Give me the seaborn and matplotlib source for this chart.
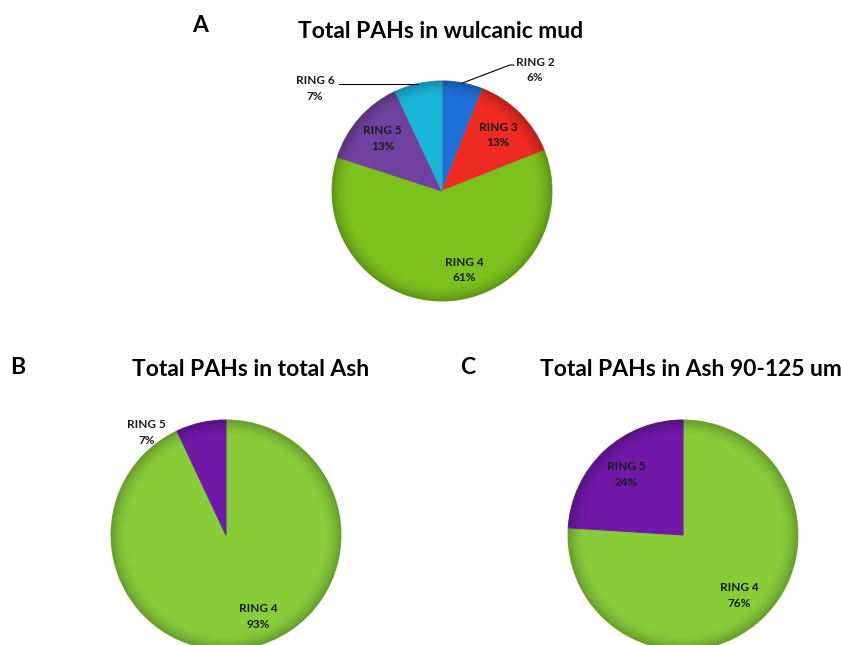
import numpy as np
import matplotlib
matplotlib.use("Agg")
import matplotlib.pyplot as plt
from matplotlib.patches import Circle
import seaborn as sns

sns.set_theme(style="white")
plt.rcParams['font.family'] = ['Lato', 'DejaVu Sans']

# data
mud_labels = ["RING 2", "RING 3", "RING 4", "RING 5", "RING 6"]
mud_values = [6, 13, 61, 13, 7]
ash_labels = ["RING 4", "RING 5"]
ash_values = [93, 7]
fine_labels = ["RING 4", "RING 5"]
fine_values = [76, 24]

colors_mud = {"RING 2": "#1f6fd8", "RING 3": "#ee2a22", "RING 4": "#7cc11d",
              "RING 5": "#7042a0", "RING 6": "#1bb5d9"}
colors_ash = {"RING 4": "#88cc3a", "RING 5": "#7018a8"}

W, H = 841, 645
fig = plt.figure(figsize=(W / 100, H / 100), dpi=100)


def pie_axes(cx, cy, r):
    ax = fig.add_axes([(cx - r) / W, (H - cy - r) / H, 2 * r / W, 2 * r / H])
    return ax


def shade(ax):
    # soft darkening towards the rim, like the bevelled office pie
    g = np.linspace(-1, 1, 400)
    xx, yy = np.meshgrid(g, g)
    rr = np.hypot(xx, yy)
    a = 0.24 * np.clip((rr - 0.84) / 0.16, 0, 1) ** 2
    img = np.zeros((400, 400, 4))
    img[..., 3] = a
    im = ax.imshow(img, extent=(-1, 1, -1, 1), origin="lower", zorder=3,
                   interpolation="bilinear")
    im.set_clip_path(Circle((0, 0), 1, transform=ax.transData))


def draw_pie(ax, labels, values, cmap, outside=None, inside=None):
    outside = outside or {}
    inside = inside or {}
    wedges, _ = ax.pie(values, colors=[cmap[l] for l in labels], startangle=90,
                       counterclock=False, radius=1,
                       wedgeprops=dict(linewidth=0.8))
    for w in wedges:
        w.set_edgecolor(sns.desaturate(w.get_facecolor()[:3], 0.85))
    shade(ax)
    ax.set_xlim(-1, 1)
    ax.set_ylim(-1, 1)
    ax.set_aspect("equal")
    ax.axis("off")
    total = sum(values)
    for w, lab, v in zip(wedges, labels, values):
        txt = f"{lab}\n{round(100 * v / total)}%"
        ang = np.deg2rad((w.theta1 + w.theta2) / 2)
        edge = (np.cos(ang), np.sin(ang))
        kw = dict(ha="center", va="center", fontsize=8.5, fontweight="bold",
                  color="#1a1a1a", linespacing=1.5, zorder=5, clip_on=False)
        if lab in outside:
            tx, ty, style = outside[lab]
            ax.text(tx, ty, txt, **kw)
            if style == "right":
                # horizontal leader from the label to the wedge rim
                ax.plot([tx + 0.22, edge[0]], [edge[1], edge[1]], color="black",
                        lw=0.8, clip_on=False, zorder=5)
            elif style == "left":
                ax.plot([edge[0], tx - 0.23, tx - 0.19], [edge[1], ty + 0.045, ty + 0.045],
                        color="black", lw=0.8, clip_on=False, zorder=5)
        elif lab in inside:
            ax.text(*inside[lab], txt, **kw)
        else:
            d = 0.72
            ax.text(d * edge[0], d * edge[1], txt, **kw)


axA = pie_axes(442, 191, 110)
draw_pie(axA, mud_labels, mud_values, colors_mud,
         outside={"RING 2": (0.845, 1.10, "left"),
                  "RING 6": (-1.155, 0.93, "right")},
         inside={"RING 4": (0.2, -0.72)})

axB = pie_axes(226, 535, 115)
draw_pie(axB, ash_labels, ash_values, colors_ash,
         outside={"RING 5": (-0.69, 0.89, None)},
         inside={"RING 4": (0.28, -0.71)})

axC = pie_axes(683, 535, 115)
draw_pie(axC, fine_labels, fine_values, colors_ash)

tkw = dict(fontsize=16.5, fontweight="bold", color="black", ha="center", va="center")
fig.text(200 / W, 1 - 25 / H, "A", **tkw)
fig.text(441 / W, 1 - 31 / H, "Total PAHs in wulcanic mud", **tkw)
fig.text(18 / W, 1 - 367 / H, "B", **tkw)
fig.text(251 / W, 1 - 370 / H, "Total PAHs in total Ash", **tkw)
fig.text(468 / W, 1 - 367 / H, "C", **tkw)
fig.text(691 / W, 1 - 370 / H, "Total PAHs in Ash 90-125 um", **tkw)

fig.savefig("out.png", dpi=100, facecolor="white")
